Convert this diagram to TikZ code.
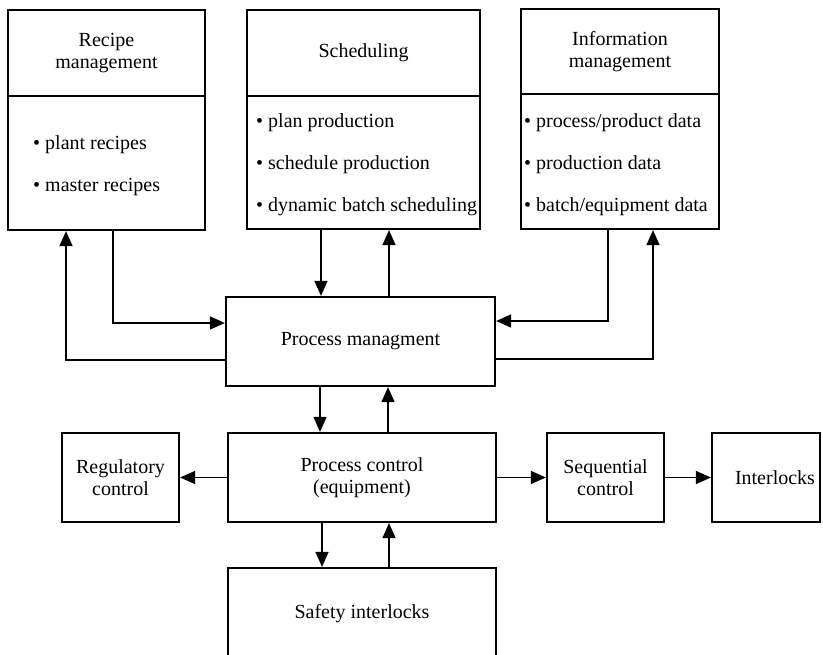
\documentclass[tikz,border=0pt]{standalone}
\usepackage{fontspec}
\setmainfont{Liberation Serif}
\usetikzlibrary{arrows.meta}
\begin{document}
\begin{tikzpicture}[x=1pt,y=-1pt,
  box/.style={draw, line width=2.2pt, minimum width=#1, inner sep=0pt, align=center, font=\fontsize{20}{22}\selectfont},
  item/.style={anchor=base west, inner sep=0pt, font=\fontsize{20}{22}\selectfont},
  arr/.style={line width=1.2pt, -{Triangle[length=15pt,width=13pt]}},
  ln/.style={line width=1.2pt}]
\useasboundingbox (0,0) rectangle (823,655);
% top boxes
\node[box=197pt, minimum height=86pt] (rmh) at (106.5,53) {Recipe\\management};
\node[box=197pt, minimum height=134pt] (rmb) at (106.5,163) {};
\node[box=233pt, minimum height=86pt] (sch) at (363.5,53) {Scheduling};
\node[box=233pt, minimum height=133pt] (scb) at (363.5,162.5) {};
\node[box=198pt, minimum height=85pt] (inh) at (620,51.5) {Information\\management};
\node[box=198pt, minimum height=135pt] (inb) at (620,161.5) {};
% list items
\node[item] (rm1) at (33,150) {\textbullet\ plant recipes};
\node[item] (rm2) at (33,192) {\textbullet\ master recipes};
\node[item] (sc1) at (256,128) {\textbullet\ plan production};
\node[item] (sc2) at (256,170) {\textbullet\ schedule production};
\node[item] (sc3) at (256,212) {\textbullet\ dynamic batch scheduling};
\node[item] (in1) at (524,128) {\textbullet\ process/product data};
\node[item] (in2) at (524,170) {\textbullet\ production data};
\node[item] (in3) at (524,212) {\textbullet\ batch/equipment data};
% middle
\node[box=269pt, minimum height=89pt] (pm) at (360.5,341.5) {Process managment};
\node[box=117pt, minimum height=89pt] (reg) at (120.5,477.5) {Regulatory\\control};
\node[box=268pt, minimum height=89pt] (pc) at (362,477.5) {Process control\\(equipment)};
\node[box=117pt, minimum height=89pt] (seq) at (605.5,477.5) {Sequential\\control};
\node[box=108pt, minimum height=89pt] (il) at (766,477.5) {\hspace*{18pt}Interlocks};
\node[box=268pt, minimum height=92pt] (saf) at (362,614) {Safety interlocks};
% connectors top
\draw[arr] (rmb.south -| 113,0) |- (pm.west |- 0,323);
\draw[arr] (pm.west |- 0,360) -| (rmb.south -| 66,0);
\draw[arr] (scb.south -| 321,0) -- (pm.north -| 321,0);
\draw[arr] (pm.north -| 389,0) -- (scb.south -| 389,0);
\draw[arr] (inb.south -| 608,0) |- (pm.east |- 0,321);
\draw[arr] (pm.east |- 0,359) -| (inb.south -| 653,0);
% middle connectors
\draw[arr] (pm.south -| 320,0) -- (pc.north -| 320,0);
\draw[arr] (pc.north -| 388,0) -- (pm.south -| 388,0);
\draw[arr] (pc.west) -- (reg.east);
\draw[arr] (pc.east) -- (seq.west);
\draw[arr] (seq.east) -- (il.west);
\draw[arr] (pc.south -| 322,0) -- (saf.north -| 322,0);
\draw[arr] (saf.north -| 389,0) -- (pc.south -| 389,0);
\end{tikzpicture}
\end{document}
